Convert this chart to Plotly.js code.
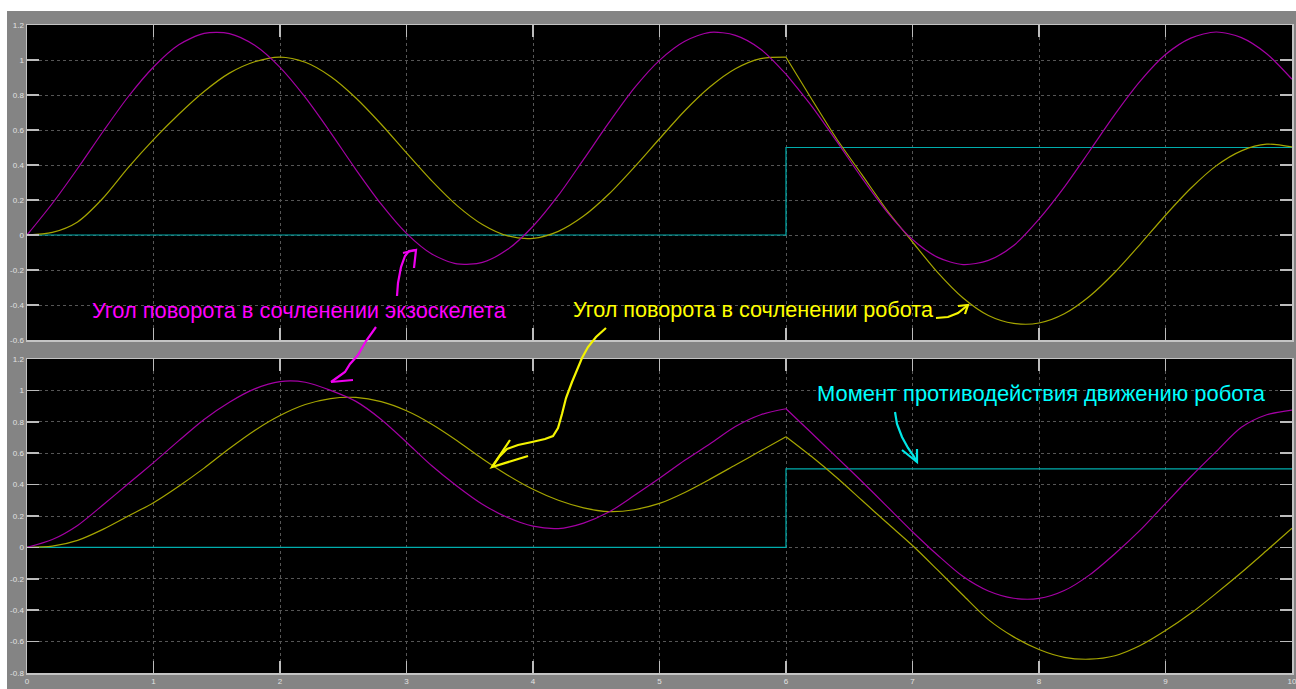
<!DOCTYPE html>
<html>
<head>
<meta charset="utf-8">
<script src="https://cdn.plot.ly/plotly-3.0.1.min.js"></script>
<style>html,body{margin:0;padding:0;background:#fff;}#chart{width:1296px;height:689px;}</style>
</head>
<body>
<div id="chart"></div>
<script>
// ---- data ----
const timeS = [0,0.2,0.4,0.6,0.8,1.0,1.2,1.4,1.6,1.8,2.0,2.2,2.4,2.6,2.8,3.0,3.2,3.4,3.6,3.8,4.0,4.2,4.4,4.6,4.8,5.0,5.2,5.4,5.6,5.8,6.0,6.2,6.4,6.6,6.8,7.0,7.2,7.4,7.6,7.8,8.0,8.2,8.4,8.6,8.8,9.0,9.2,9.4,9.6,9.8,10.0];

// top scope: exoskeleton joint angle (magenta)
const exoAngleTop = [0,0.18,0.38,0.59,0.79,0.96,1.087,1.152,1.151,1.084,0.958,0.786,0.585,0.374,0.176,0.009,-0.109,-0.165,-0.156,-0.082,0.05,0.226,0.432,0.642,0.839,0.998,1.107,1.158,1.141,1.062,0.919,0.739,0.536,0.326,0.131,-0.026,-0.128,-0.169,-0.145,-0.06,0.091,0.274,0.48,0.689,0.879,1.031,1.125,1.16,1.128,1.036,0.89];
// top scope: robot joint angle (yellow)
const robotAngleTop = [0,0.015,0.075,0.21,0.385,0.545,0.69,0.82,0.925,0.99,1.017,0.987,0.906,0.783,0.633,0.469,0.309,0.168,0.06,-0.005,-0.019,0.021,0.108,0.234,0.387,0.55,0.71,0.847,0.95,1.008,1.016,0.78,0.55,0.345,0.14,-0.04,-0.215,-0.36,-0.46,-0.505,-0.503,-0.45,-0.35,-0.213,-0.053,0.113,0.267,0.395,0.481,0.519,0.503];

// bottom scope: exoskeleton joint angle (magenta)
const exoAngleBottom = [0,0.05,0.14,0.27,0.405,0.54,0.68,0.815,0.925,1.01,1.056,1.052,1.0,0.93,0.815,0.67,0.52,0.39,0.275,0.19,0.135,0.12,0.155,0.225,0.33,0.44,0.555,0.66,0.77,0.845,0.883,0.73,0.575,0.42,0.26,0.10,-0.05,-0.186,-0.278,-0.324,-0.325,-0.275,-0.175,-0.04,0.11,0.28,0.45,0.61,0.765,0.845,0.875];
// bottom scope: robot joint angle (yellow)
const robotAngleBottom = [0,0.008,0.045,0.115,0.2,0.285,0.39,0.505,0.63,0.745,0.84,0.91,0.948,0.955,0.928,0.87,0.785,0.68,0.565,0.46,0.37,0.3,0.252,0.228,0.24,0.28,0.35,0.435,0.525,0.615,0.705,0.58,0.445,0.30,0.155,0.012,-0.145,-0.305,-0.46,-0.57,-0.65,-0.70,-0.712,-0.69,-0.625,-0.53,-0.42,-0.293,-0.16,-0.02,0.122];

// resisting torque (cyan step), same in both scopes
const torqueTime = [0,6,10];
const torqueValue = [0,0.5,0.5];

// the load is switched on at this time: curves have a corner there
const switchTime = 6;

// tick labels
const xTickVals = [0,1,2,3,4,5,6,7,8,9,10];
const xTickText = ['0','1','2','3','4','5','6','7','8','9','10'];
const yTopTickVals = [1.2,1,0.8,0.6,0.4,0.2,0,-0.2,-0.4,-0.6];
const yTopTickText = ['1.2','1','0.8','0.6','0.4','0.2','0','-0.2','-0.4','-0.6'];
const yBotTickVals = [1.2,1,0.8,0.6,0.4,0.2,0,-0.2,-0.4,-0.6,-0.8];
const yBotTickText = ['1.2','1','0.8','0.6','0.4','0.2','0','-0.2','-0.4','-0.6','-0.8'];

const labelExo = 'Угол поворота в сочленении экзоскелета';
const labelRobot = 'Угол поворота в сочленении робота';
const labelTorque = 'Момент противодействия движению робота';

// ---- styling ----
const W = 1296, H = 689;
const PX = x => x / W;
const PY = y => 1 - y / H;
const cMag = '#a400a4', cYel = '#a6a600', cCyan = '#00adad';

function line(x, y, color, xa, ya, shape) {
  return {x: x, y: y, xaxis: xa, yaxis: ya, type: 'scatter', mode: 'lines',
    line: {color: color, width: 1.2, shape: shape, smoothing: 0.8},
    hoverinfo: 'skip', showlegend: false};
}
// split a series at the switching time so the corner stays sharp
function curvePieces(y, color, xa, ya) {
  const k = timeS.indexOf(switchTime);
  return [
    line(timeS.slice(0, k + 1), y.slice(0, k + 1), color, xa, ya, 'spline'),
    line(timeS.slice(k), y.slice(k), color, xa, ya, 'spline')
  ];
}

const traces = [].concat(
  [line(torqueTime, torqueValue, cCyan, 'x', 'y', 'hv')],
  curvePieces(robotAngleTop, cYel, 'x', 'y'),
  curvePieces(exoAngleTop, cMag, 'x', 'y'),
  [line(torqueTime, torqueValue, cCyan, 'x2', 'y2', 'hv')],
  curvePieces(robotAngleBottom, cYel, 'x2', 'y2'),
  curvePieces(exoAngleBottom, cMag, 'x2', 'y2')
);

const tickFont = {family: 'Liberation Sans, Arial, sans-serif', size: 8, color: '#e2e2e2'};
const common = {
  showgrid: true, gridcolor: '#565656', griddash: 'dot', gridwidth: 1,
  zeroline: false, showline: true, linecolor: '#c4c4c4', linewidth: 1.5, mirror: 'ticks',
  ticks: 'inside', ticklen: 12, tickwidth: 1.5, tickcolor: '#bcbcbc',
  tickfont: tickFont, tickmode: 'array', fixedrange: true, ticklabeloverflow: 'allow'
};
const xDom = [PX(27), PX(1292)];

// hand-drawn arrows (pixel points of the figure)
function pathOf(pts) {
  return pts.map((p, i) => (i ? 'L' : 'M') + PX(p[0]).toFixed(5) + ',' + PY(p[1]).toFixed(5)).join(' ');
}
function arrowShape(pts, color) {
  return {type: 'path', xref: 'paper', yref: 'paper', path: pathOf(pts),
    line: {color: color, width: 2.2}, layer: 'above'};
}
const magPen = '#f000f0', yelPen = '#f4f400', cyanPen = '#00e6e6';
const arrows = [
  [[[397,296],[398,283],[401,267],[405,256],[409,251],[416,250]], magPen],
  [[[403,253],[416,250],[414,268]], magPen],
  [[[376,327],[366,341],[358,355],[350,364],[345,372],[338,377],[331,382]], magPen],
  [[[353,380],[331,382]], magPen],
  [[[606,328],[596,337],[588,347],[582,358],[577,370],[572,382],[566,398],[562,414],[558,428],[553,436],[545,439],[532,442],[518,445],[507,449],[499,457],[492,467]], yelPen],
  [[[510,440],[492,467],[528,456]], yelPen],
  [[[936,318],[948,317],[958,313],[968,305]], yelPen],
  [[[958,306],[968,305],[965,314]], yelPen],
  [[[895,412],[897,424],[902,437],[908,448],[913,455],[917,462]], cyanPen],
  [[[902,450],[917,462],[917,449]], cyanPen]
];

const shapes = [
  {type: 'rect', xref: 'paper', yref: 'paper', x0: 0, x1: 1, y0: PY(11), y1: 1, fillcolor: '#ffffff', line: {width: 0}, layer: 'below'},
  {type: 'rect', xref: 'paper', yref: 'paper', x0: 0, x1: PX(7), y0: 0, y1: 1, fillcolor: '#ffffff', line: {width: 0}, layer: 'below'}
].concat(arrows.map(a => arrowShape(a[0], a[1])));

const textFont = 'Liberation Sans, Arial, sans-serif';
const annotations = [
  {xref: 'paper', yref: 'paper', x: PX(90), y: PY(310), xanchor: 'left', yanchor: 'middle', showarrow: false,
    text: labelExo, font: {family: textFont, size: 21.8, color: '#ff00ff'}},
  {xref: 'paper', yref: 'paper', x: PX(571), y: PY(309), xanchor: 'left', yanchor: 'middle', showarrow: false,
    text: labelRobot, font: {family: textFont, size: 21.6, color: '#ffff00'}},
  {xref: 'paper', yref: 'paper', x: PX(815), y: PY(393), xanchor: 'left', yanchor: 'middle', showarrow: false,
    text: labelTorque, font: {family: textFont, size: 21.9, color: '#00ffff'}}
];

const layout = {
  width: W, height: H,
  margin: {l: 0, r: 0, t: 0, b: 0, pad: 0},
  paper_bgcolor: '#848484', plot_bgcolor: '#000000',
  showlegend: false,
  xaxis: Object.assign({}, common, {domain: xDom, anchor: 'y', range: [0, 10], tickvals: xTickVals, ticktext: xTickText, showticklabels: false}),
  yaxis: Object.assign({}, common, {domain: [PY(340), PY(25)], anchor: 'x', range: [-0.6, 1.2], tickvals: yTopTickVals, ticktext: yTopTickText}),
  xaxis2: Object.assign({}, common, {domain: xDom, anchor: 'y2', range: [0, 10], tickvals: xTickVals, ticktext: xTickText}),
  yaxis2: Object.assign({}, common, {domain: [PY(673), PY(359)], anchor: 'x2', range: [-0.8, 1.2], tickvals: yBotTickVals, ticktext: yBotTickText}),
  shapes: shapes,
  annotations: annotations
};

Plotly.newPlot('chart', traces, layout, {staticPlot: true, displayModeBar: false});
</script>
</body>
</html>
